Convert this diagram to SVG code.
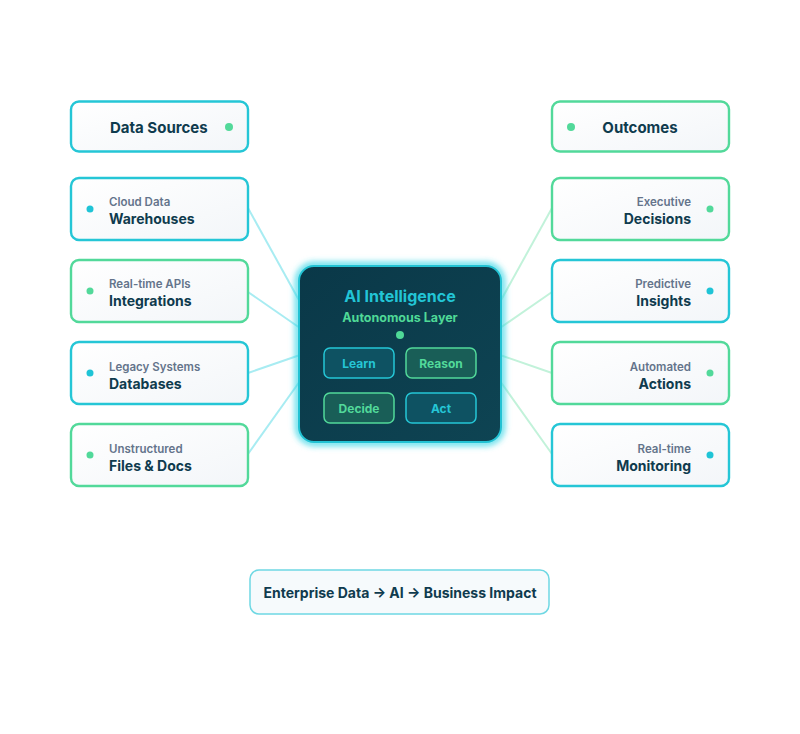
<svg xmlns="http://www.w3.org/2000/svg" width="800" height="734" viewBox="0 0 800 734">
<defs>
<linearGradient id="card" x1="0" y1="0" x2="1" y2="1">
<stop offset="0" stop-color="#ffffff"/>
<stop offset="1" stop-color="#f3f6f9"/>
</linearGradient>
<linearGradient id="core" x1="0" y1="0" x2="1" y2="1">
<stop offset="0" stop-color="#0a3848"/>
<stop offset="1" stop-color="#0e4453"/>
</linearGradient>
<filter id="glow" x="-20%" y="-20%" width="140%" height="140%">
<feGaussianBlur stdDeviation="3"/>
</filter>
</defs>
<style>
.cardC{fill:url(#card);stroke:#25c6d6;stroke-width:2.4}
.cardG{fill:url(#card);stroke:#52d99a;stroke-width:2.4}
.head{font-family:Inter,"Liberation Sans",sans-serif;font-weight:700;font-size:15px;fill:#0f3b4e}
.main{font-family:Inter,"Liberation Sans",sans-serif;font-weight:700;font-size:14px;fill:#0f3b4e}
.sub{font-family:Inter,"Liberation Sans",sans-serif;font-weight:600;font-size:11.5px;fill:#64748b}
.dotC{fill:#1fc4d6}
.dotG{fill:#52d99a}
.lnL{stroke:#a8ecf2;stroke-width:2;fill:none}
.lnR{stroke:#c2f2da;stroke-width:2;fill:none}
.btnC{fill:#0e5262;stroke:#25c6d6;stroke-width:1.5}
.btnG{fill:#195e57;stroke:#52d99a;stroke-width:1.5}
.btxt{font-family:Inter,"Liberation Sans",sans-serif;font-weight:700;font-size:12px;text-anchor:middle}
</style>
<rect width="800" height="734" fill="#ffffff"/>

<g id="connectors">
<line class="lnL" x1="248" y1="208" x2="300" y2="302"/>
<line class="lnL" x1="248" y1="292" x2="300" y2="328"/>
<line class="lnL" x1="248" y1="373" x2="300" y2="355"/>
<line class="lnL" x1="248" y1="454" x2="300" y2="381"/>
<line class="lnR" x1="552" y1="208" x2="500" y2="302"/>
<line class="lnR" x1="552" y1="292" x2="500" y2="328"/>
<line class="lnR" x1="552" y1="373" x2="500" y2="355"/>
<line class="lnR" x1="552" y1="454" x2="500" y2="381"/>
</g>

<g id="header-sources">
<rect class="cardC" x="71" y="101.5" width="177" height="50" rx="8" stroke-width="2.8"/>
<text class="head" x="110" y="133">Data Sources</text>
<circle class="dotG" cx="229" cy="127" r="4"/>
</g>
<g id="header-outcomes">
<rect class="cardG" x="552" y="101.5" width="177" height="50" rx="8" stroke-width="2.8"/>
<text class="head" x="640" y="133" text-anchor="middle">Outcomes</text>
<circle class="dotG" cx="571" cy="127" r="4"/>
</g>

<g id="src-warehouses">
<rect class="cardC" x="71" y="178" width="177" height="62" rx="8"/>
<circle class="dotC" cx="90" cy="209" r="3.5"/>
<text class="sub" x="109" y="206">Cloud Data</text>
<text class="main" x="109" y="224">Warehouses</text>
</g>
<g id="src-integrations">
<rect class="cardG" x="71" y="260" width="177" height="62" rx="8"/>
<circle class="dotG" cx="90" cy="291" r="3.5"/>
<text class="sub" x="109" y="288">Real-time APIs</text>
<text class="main" x="109" y="306">Integrations</text>
</g>
<g id="src-databases">
<rect class="cardC" x="71" y="342" width="177" height="62" rx="8"/>
<circle class="dotC" cx="90" cy="373" r="3.5"/>
<text class="sub" x="109" y="371">Legacy Systems</text>
<text class="main" x="109" y="389">Databases</text>
</g>
<g id="src-files">
<rect class="cardG" x="71" y="424" width="177" height="62" rx="8"/>
<circle class="dotG" cx="90" cy="455" r="3.5"/>
<text class="sub" x="109" y="453">Unstructured</text>
<text class="main" x="109" y="471">Files &amp; Docs</text>
</g>

<g id="out-decisions">
<rect class="cardG" x="552" y="178" width="177" height="62" rx="8"/>
<circle class="dotG" cx="710" cy="209" r="3.5"/>
<text class="sub" x="691" y="206" text-anchor="end">Executive</text>
<text class="main" x="691" y="224" text-anchor="end">Decisions</text>
</g>
<g id="out-insights">
<rect class="cardC" x="552" y="260" width="177" height="62" rx="8"/>
<circle class="dotC" cx="710" cy="291" r="3.5"/>
<text class="sub" x="691" y="288" text-anchor="end">Predictive</text>
<text class="main" x="691" y="306" text-anchor="end">Insights</text>
</g>
<g id="out-actions">
<rect class="cardG" x="552" y="342" width="177" height="62" rx="8"/>
<circle class="dotG" cx="710" cy="373" r="3.5"/>
<text class="sub" x="691" y="371" text-anchor="end">Automated</text>
<text class="main" x="691" y="389" text-anchor="end">Actions</text>
</g>
<g id="out-monitoring">
<rect class="cardC" x="552" y="424" width="177" height="62" rx="8"/>
<circle class="dotC" cx="710" cy="455" r="3.5"/>
<text class="sub" x="691" y="453" text-anchor="end">Real-time</text>
<text class="main" x="691" y="471" text-anchor="end">Monitoring</text>
</g>

<g id="ai-core">
<rect x="298" y="265" width="204" height="178" rx="16" fill="none" stroke="#34d6e6" stroke-width="5" filter="url(#glow)"/>
<rect x="299" y="266" width="202" height="176" rx="15" fill="url(#core)" stroke="#22c2d3" stroke-width="2"/>
<text x="400" y="302" text-anchor="middle" font-family="Inter,'Liberation Sans',sans-serif" font-weight="700" font-size="16" fill="#22c5d6">AI Intelligence</text>
<text x="400" y="322" text-anchor="middle" font-family="Inter,'Liberation Sans',sans-serif" font-weight="700" font-size="12.5" fill="#4fd997">Autonomous Layer</text>
<circle cx="400" cy="335" r="4" fill="#4fd997"/>
<g id="btn-learn"><rect class="btnC" x="324" y="348" width="70" height="30" rx="6"/><text class="btxt" x="359" y="368" fill="#25c6d6">Learn</text></g>
<g id="btn-reason"><rect class="btnG" x="406" y="348" width="70" height="30" rx="6"/><text class="btxt" x="441" y="368" fill="#52d99a">Reason</text></g>
<g id="btn-decide"><rect class="btnG" x="324" y="393" width="70" height="30" rx="6"/><text class="btxt" x="359" y="413" fill="#52d99a">Decide</text></g>
<g id="btn-act"><rect class="btnC" x="406" y="393" width="70" height="30" rx="6"/><text class="btxt" x="441" y="413" fill="#25c6d6">Act</text></g>
</g>

<g id="footer">
<rect x="250" y="570" width="299" height="44" rx="9" fill="#f6fafc" stroke="#6fd8e3" stroke-width="1.5"/>
<text class="main" x="400" y="598" text-anchor="middle">Enterprise Data → AI → Business Impact</text>
</g>
</svg>
